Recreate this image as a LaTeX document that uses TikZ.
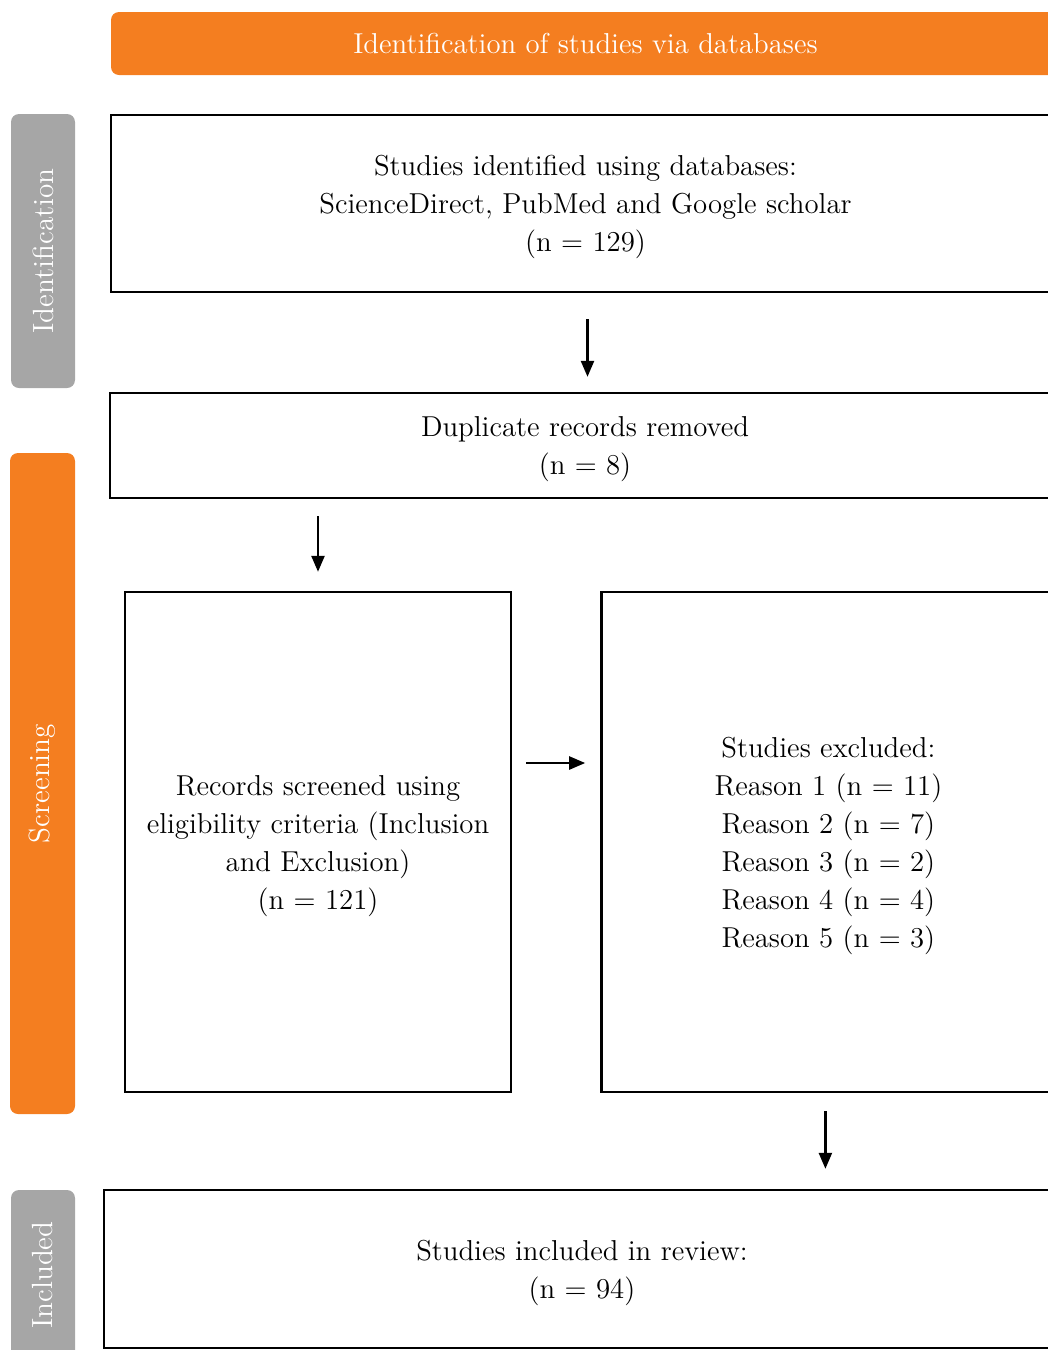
\documentclass[tikz,border=0pt]{standalone}
\usetikzlibrary{arrows.meta,positioning}
\definecolor{prismaorange}{HTML}{F47E20}
\definecolor{prismagray}{HTML}{A6A6A6}

\begin{document}
\begin{tikzpicture}[
  x=0.5pt, y=-0.5pt,
  box/.style={
    draw, line width=1.2pt, align=center, inner sep=4pt, text depth=0pt,
    font=\fontsize{14.4}{19}\selectfont
  },
  band/.style={
    fill=prismaorange, rounded corners=4pt, text=white,
    font=\fontsize{14.4}{16}\selectfont
  },
  side/.style={
    rounded corners=4pt, text=white, rotate=90,
    font=\fontsize{14.6}{16}\selectfont
  },
  arr/.style={-{Triangle[length=8pt,width=6.5pt]}, line width=1.2pt}
]
\useasboundingbox (0,0) rectangle (1048,1350);
\clip (0,0) rectangle (1048,1350);

% Header band
\node[band, minimum width=474.5pt, minimum height=31.5pt] (head) at (585.5,43.5)
  {Identification of studies via databases};

% Side bars
\node[side, fill=prismagray, minimum width=137pt, minimum height=32pt] (idbar) at (43,251) {Identification};
\node[side, fill=prismaorange, minimum width=330.5pt, minimum height=32.5pt] (scbar) at (42.5,783.5) {Screening};
\node[side, fill=prismagray, minimum width=85pt, minimum height=32pt] (inbar) at (43,1275) {Included};

% Identification
\node[box, minimum width=474.5pt, minimum height=88.5pt] (ident) at (585.5,203.5) {%
Studies identified using databases:\\
ScienceDirect, PubMed and Google scholar\\
(n = 129)};
\node[box, minimum width=475pt, minimum height=52.5pt] (dupl) at (585,445.5) {%
Duplicate records removed\\
(n = 8)};

% Screening
\node[box, minimum width=193pt, minimum height=250pt] (screen) at (318,842) {%
Records screened using\\
eligibility criteria (Inclusion\\
and Exclusion)\\
(n = 121)};
\node[box, minimum width=227pt, minimum height=250pt, right=44pt of screen] (excl) {%
Studies excluded:\\
Reason 1 (n = 11)\\
Reason 2 (n = 7)\\
Reason 3 (n = 2)\\
Reason 4 (n = 4)\\
Reason 5 (n = 3)};

% Included
\node[box, minimum width=478pt, minimum height=79pt] (incl) at (582,1269) {%
Studies included in review:\\
(n = 94)};

% Arrows
\draw[arr, shorten <=13pt, shorten >=7.5pt] ([xshift=1pt]ident.south) -- ([xshift=1pt]ident.south |- dupl.north);
\draw[arr, shorten <=8.5pt, shorten >=9.5pt] (dupl.south -| screen.north) -- (screen.north);
\draw[arr, shorten <=7pt, shorten >=7.5pt] ([yshift=39.5pt]screen.east) -- ([yshift=39.5pt]excl.west);
\draw[arr, shorten <=9pt, shorten >=10pt] ([xshift=-1.5pt]excl.south) -- ([xshift=-1.5pt]excl.south |- incl.north);

\end{tikzpicture}
\end{document}
